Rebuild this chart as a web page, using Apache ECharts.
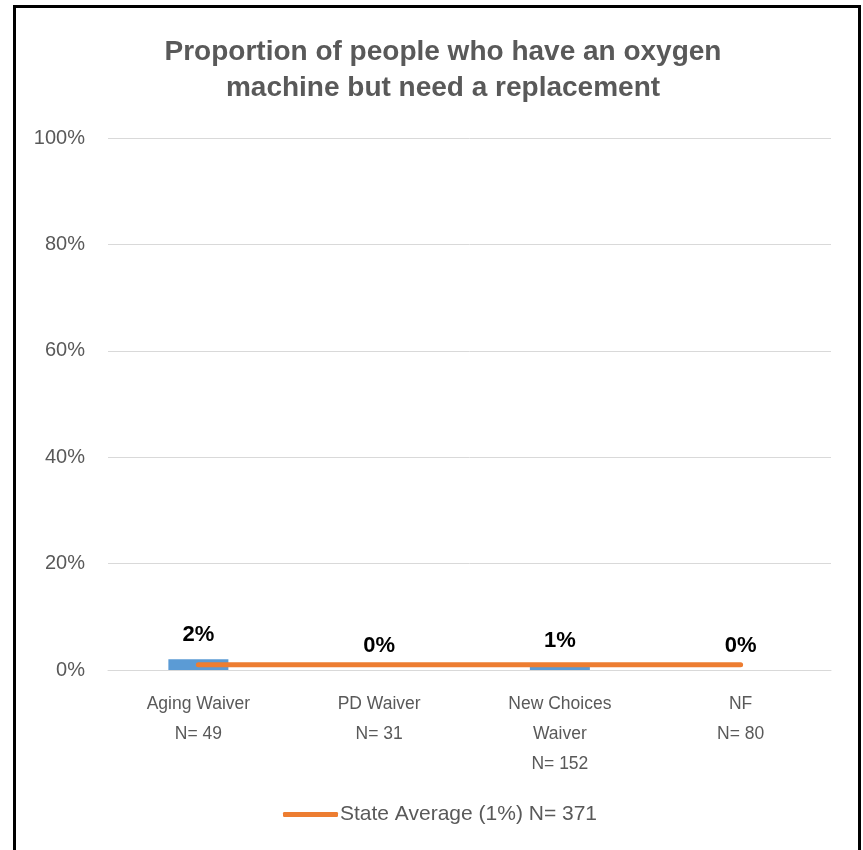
<!DOCTYPE html>
<html>
<head>
<meta charset="utf-8">
<script src="https://cdn.jsdelivr.net/npm/echarts@6/dist/echarts.min.js"></script>
<style>
html,body{margin:0;padding:0;background:#fff;}
#chart{width:863px;height:850px;}
</style>
</head>
<body>
<div id="chart"></div>
<script>
const categories = ['Aging Waiver', 'PD Waiver', 'New Choices\nWaiver', 'NF'];
const sampleSizes = [49, 31, 152, 80];
const values = [2, 0, 1, 0];
const stateAverage = [1, 1, 1, 1];
const stateLabel = 'State Average (1%) N= 371';
const yTicks = [0, 20, 40, 60, 80, 100];

const FONT = 'Liberation Sans';
const chart = echarts.init(document.getElementById('chart'));
chart.setOption({
  animation: false,
  backgroundColor: '#fff',
  title: {
    text: 'Proportion of people who have an oxygen\nmachine but need a replacement',
    left: 438, textAlign: 'center', top: 29,
    textStyle: { fontFamily: FONT, fontSize: 28, fontWeight: 'bold', color: '#595959', lineHeight: 36 }
  },
  graphic: [{
    type: 'rect', silent: true,
    shape: { x: 14.5, y: 6.5, width: 845, height: 870 },
    style: { fill: 'none', stroke: '#000', lineWidth: 3 }
  }],
  legend: {
    data: [stateLabel],
    left: 278, top: 799,
    icon: 'roundRect', itemWidth: 55, itemHeight: 5, itemGap: 2,
    textStyle: { fontFamily: FONT, fontSize: 21, color: '#595959', padding: [0, 0, 0, -3] }
  },
  grid: { left: 108, right: 32, top: 138, bottom: 180, containLabel: false },
  xAxis: {
    type: 'category',
    data: categories,
    axisLine: { show: true, lineStyle: { color: '#D9D9D9', width: 1 } },
    axisTick: { show: false },
    axisLabel: {
      interval: 0, margin: 19, color: '#595959', fontFamily: FONT, fontSize: 17.5, lineHeight: 30,
      formatter: (v, i) => v + '\nN= ' + sampleSizes[i]
    }
  },
  yAxis: {
    type: 'value', min: 0, max: 100, interval: 20,
    axisLine: { show: false }, axisTick: { show: false },
    splitLine: { lineStyle: { color: '#D9D9D9', width: 1 } },
    axisLabel: { margin: 23, color: '#595959', fontFamily: FONT, fontSize: 20, formatter: v => v + '%' }
  },
  series: [
    {
      name: 'Proportion', type: 'bar', data: values, barWidth: 60,
      itemStyle: { color: '#5B9BD5' },
      label: {
        show: true, position: 'top', distance: 13,
        fontFamily: FONT, fontSize: 22, fontWeight: 'bold', color: '#000',
        formatter: p => p.value + '%'
      },
      z: 2
    },
    {
      name: stateLabel, type: 'line', data: stateAverage,
      symbol: 'none', lineStyle: { color: '#ED7D31', width: 5, cap: 'round' },
      itemStyle: { color: '#ED7D31' },
      z: 3
    }
  ]
});
</script>
</body>
</html>
